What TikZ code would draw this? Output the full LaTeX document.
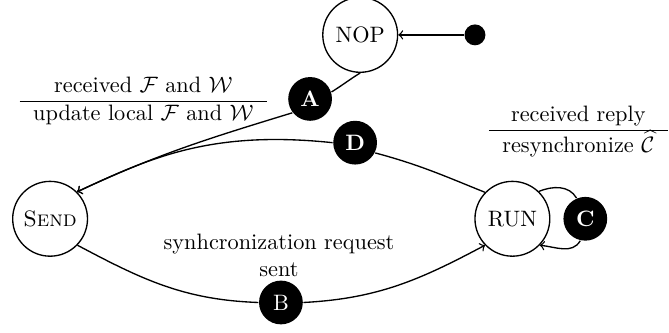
\documentclass[tikz,border=0pt]{standalone}
\usepackage{amsmath}
\usepackage{amssymb}

\begin{document}
\begin{tikzpicture}[
		semithick,
		stnode/.style={circle, draw, minimum size=1.18cm, inner sep=0pt},
		tagnode/.style={circle, fill=black, text=white, minimum size=0.69cm, inner sep=0pt},
		initdot/.style={circle, fill=black, minimum size=0.33cm, inner sep=0pt},
		txtlabel/.style={inner sep=0pt, align=center}
	]
  \useasboundingbox (-0.79cm, -1.80cm) rectangle (9.76cm, 3.45cm);
  \node (SEND) [stnode] at (0cm, 0cm) {\textsc{Send}};
  \node (RUN) [stnode] at (7.29cm, 0cm) {RUN};
  \node (NOP) [stnode] at (4.89cm, 2.90cm) {NOP};
  \node (init) [initdot] at (6.70cm, 2.90cm) {};
  \node (A) [tagnode] at (4.10cm, 1.89cm) {\textbf{A}};
  \node (B) [tagnode] at (3.64cm, -1.32cm) {B};
  \node (C) [tagnode] at (8.44cm, 0cm) {\textbf{C}};
  \node (D) [tagnode] at (4.81cm, 1.20cm) {\textbf{D}};
  \node (recvFW) [txtlabel] at (1.47cm, 1.85cm) {\begin{tabular}{c} received $\mathcal{F}$ and $\mathcal{W}$ \\ \hline update local $\mathcal{F}$ and $\mathcal{W}$ \end{tabular}};
  \node (recvReply) [txtlabel] at (8.33cm, 1.37cm) {\begin{tabular}{c} received reply \\ \hline resynchronize $\widehat{\mathcal{C}}$ \end{tabular}};
  \node (syncSent) [txtlabel] at (3.61cm, -0.58cm) {synhcronization request\\sent};
  \draw (init) edge [->] (NOP);
  \draw (NOP.south) edge [out=212, in=32] (A.18);
  \draw (A.218) edge [->, out=197, in=25] (SEND.45);
  \draw (RUN.136) edge [out=158, in=-15] (D.-27);
  \draw (D.west) edge [->, out=174, in=25, out looseness=1.2, in looseness=0.8] (SEND.45);
  \draw (SEND.-44) edge [out=-28, in=178] (B.west);
  \draw (B.east) edge [->, out=3, in=208] (RUN.224);
  \draw (RUN.46) edge [out=22, in=120] (C.113);
  \draw (C.-103) edge [->, out=-120, in=-6] (RUN.-44);
\end{tikzpicture}
\end{document}
